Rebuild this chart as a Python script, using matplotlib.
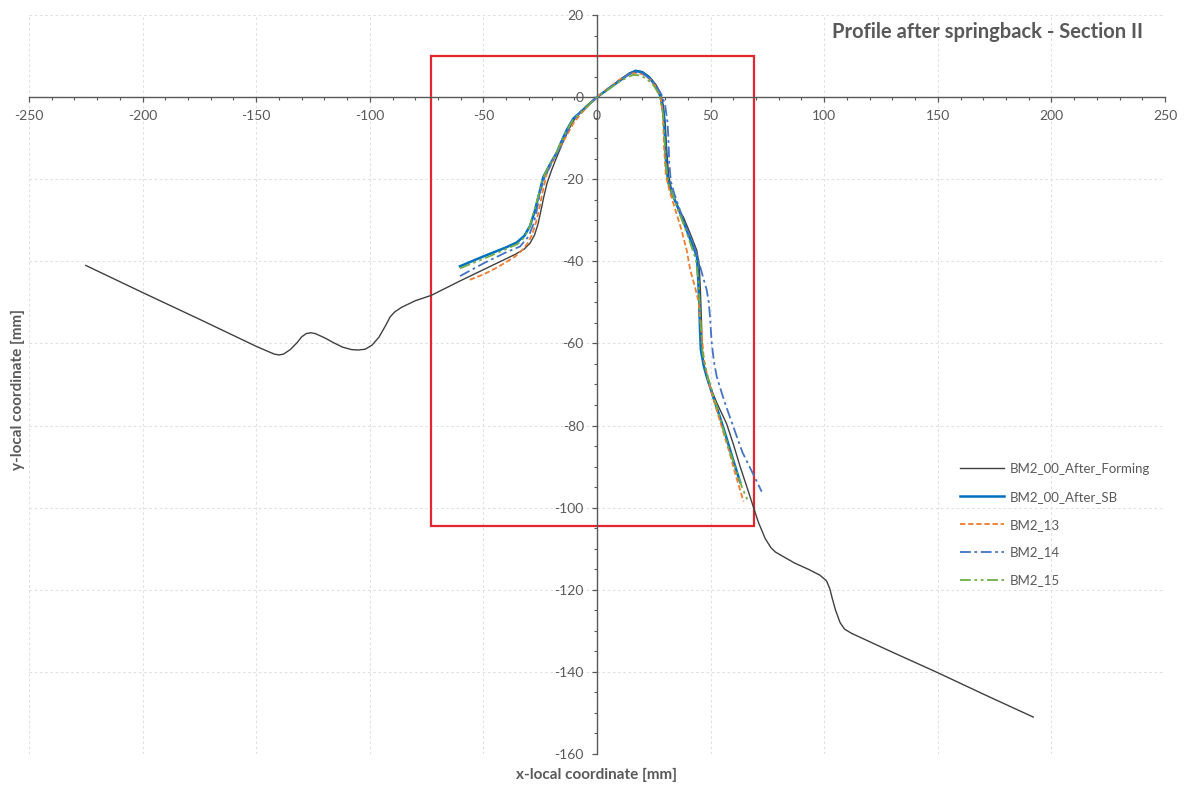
import matplotlib
matplotlib.use('Agg')
import matplotlib.pyplot as plt
from matplotlib.patches import Rectangle
from matplotlib.ticker import MultipleLocator

plt.rcParams['font.family'] = ['Lato', 'DejaVu Sans']
plt.rcParams['axes.unicode_minus'] = False

# BM2_00_After_Forming (full profile)
form_x = [-225, -200, -175, -150, -145, -142, -140, -138, -135, -132, -130, -128, -126, -124,
          -120, -116, -112, -108, -105, -102, -99, -96, -93, -91, -89, -86, -80, -73, -60, -45,
          -36, -32, -29.5, -27.5, -26, -24.8, -23.5, -22, -20, -18, -15, -12, -9, -5, 0, 5, 10,
          14, 17, 20, 23, 26, 28, 29.2, 30, 30.7, 31.5, 33, 35.5, 38, 41, 43.9, 45, 45.5, 46,
          46.3, 47.5, 50, 53, 57, 60, 63, 66, 68.8, 71, 74, 76.5, 78.5, 81, 87, 93, 98, 101,
          102.5, 103.5, 105, 107, 109, 112, 130, 150, 170, 192]
form_y = [-41, -47.6, -54.1, -60.7, -61.9, -62.6, -62.8, -62.6, -61.5, -59.8, -58.4, -57.6, -57.4,
          -57.6, -58.6, -59.8, -60.9, -61.5, -61.6, -61.4, -60.4, -58.5, -55.6, -53.5, -52.3,
          -51.2, -49.6, -48.3, -44.7, -40.7, -38.3, -37, -35.6, -33.6, -31, -28, -24.5, -21,
          -17.8, -15, -11, -7.4, -4.6, -2.3, 0, 2, 4.2, 5.8, 6.5, 6.2, 5, 3, 0.8, -2, -6, -12.9,
          -19, -23, -27, -29.2, -33.2, -37.3, -41, -47, -55, -62, -66.5, -70.8, -74.8, -79.5,
          -84.5, -90, -95, -99.8, -103.5, -107.5, -109.7, -110.8, -111.6, -113.5, -115, -116.4,
          -117.8, -119.8, -122, -125, -128, -129.6, -130.6, -135.2, -140.2, -145.4, -151]

# BM2_00_After_SB
sb_x = [-60.3, -50, -40, -35.3, -32, -29.5, -27.5, -25.8, -23.6, -20.5, -17.7, -15, -13.3, -10.4,
        -6, -3, 0, 5, 10, 14, 17, 20, 23, 25, 27, 28, 29.3, 29.9, 30.5, 31.5, 33, 35, 37.5, 40,
        42.5, 44, 44.5, 45, 45.3, 45.7, 47, 48.3, 51, 54.1, 57, 60, 63]
sb_y = [-41.2, -38.8, -36.6, -35.4, -33.8, -31.4, -28, -24.3, -19.4, -16.2, -13.5, -10, -8, -5.2,
        -3.1, -1.5, 0, 2, 4, 5.6, 6.4, 6, 4.8, 3.3, 1.4, 0, -4, -9.7, -17, -21, -23.5, -26, -29.5,
        -33.2, -36.6, -39, -44, -50, -56, -61.5, -65.5, -68.1, -72.8, -77.9, -83, -88.5, -93.8]

# BM2_13
b13_x = [-56, -50, -45, -40, -36, -33, -30.5, -28.5, -27, -25.5, -24.3, -22.1, -19, -16.3, -13,
         -10.4, -7, -3, 0, 5, 10, 14, 17, 20, 23, 26, 28, 29, 29.5, 30.3, 32, 34.5, 37, 39.5, 41,
         43, 44.6, 46, 47, 49, 52, 55, 58, 61, 64.5]
b13_y = [-44.5, -43.2, -41.8, -40.2, -38.8, -37.3, -35.6, -33.4, -30.8, -27.5, -24, -18.6, -15,
         -12.1, -9, -6.4, -4, -1.6, 0, 2.2, 4.3, 5.6, 5.9, 5.6, 4.5, 2.5, 0, -4, -12, -19, -23,
         -27.5, -32, -37.3, -42, -46, -49.5, -57, -63.8, -69, -75, -80.5, -86, -92, -98.5]

# BM2_14
b14_x = [-60.3, -50, -40, -33.9, -30.2, -28, -26.5, -25, -23, -20, -17, -14, -11, -7, -3, 0, 5,
         10, 14, 17, 20, 23, 26, 28.5, 30, 31, 31.4, 31.8, 32.5, 34, 36.5, 39, 42, 44, 45.5, 47,
         48.3, 49.2, 49.8, 50.5, 51.5, 52.7, 56, 60, 64, 68, 72.5]
b14_y = [-43.6, -40.5, -37.8, -36.4, -34, -31, -27.5, -23, -19.5, -16, -13, -9.5, -6, -3.4, -1.5,
         0, 2.1, 4.2, 5.6, 6.1, 5.8, 4.6, 2.8, 0.5, -2, -6, -9.7, -16, -20.5, -23.5, -27.5, -31.5,
         -35, -38.5, -41.5, -44.5, -47, -50, -54, -60, -64.5, -68.1, -74, -80.3, -86.5, -91, -96.1]

# BM2_15
b15_x = [-60.3, -50, -40, -35, -32, -29.8, -27.8, -26, -24, -21, -18, -15.3, -13.5, -10.5, -6, -3,
         0, 5, 10, 14, 16, 19, 22, 25, 27.5, 29, 29.7, 30.4, 31.5, 33.5, 36, 38.5, 41, 43.5, 44.5,
         45, 45.6, 46.2, 47.5, 49, 52, 55, 58, 61.5, 64, 66.6]
b15_y = [-41.7, -39.4, -37, -35.8, -34.2, -31.8, -28, -24.5, -20, -16.5, -13.7, -10.3, -8.3, -5.5,
         -3.2, -1.5, 0, 1.9, 3.8, 5, 5.4, 5.3, 4.4, 2.8, 0.5, -4, -10, -17, -21, -24, -28, -31.5,
         -35.5, -39.5, -44, -48.5, -55, -61, -65.5, -68.5, -74, -79.8, -85.5, -91.3, -95.3, -98.5]

# highlighted region
box_x0, box_x1 = -73, 69
box_y0, box_y1 = -104.5, 10

gray = '#595959'

fig = plt.figure(figsize=(11.85, 7.87), dpi=100)
ax = fig.add_axes([29/1185, 33/787, 1136/1185, 739/787])

ax.plot(form_x, form_y, color='#404040', lw=1.0, label='BM2_00_After_Forming', zorder=3)
ax.plot(sb_x, sb_y, color='#0070C0', lw=1.8, label='BM2_00_After_SB', zorder=4)
ax.plot(b13_x, b13_y, color='#ED7D31', lw=1.3, dashes=(3, 1.5), label='BM2_13', zorder=4)
ax.plot(b14_x, b14_y, color='#4472C4', lw=1.3, dashes=(6, 2, 1.5, 2), label='BM2_14', zorder=4)
ax.plot(b15_x, b15_y, color='#70AD47', lw=1.3, dashes=(6, 2, 1.5, 2, 1.5, 2), label='BM2_15', zorder=4)

ax.add_patch(Rectangle((box_x0, box_y0), box_x1 - box_x0, box_y1 - box_y0,
                       fill=False, edgecolor='#E3262D', lw=1.6, zorder=2))

ax.set_xlim(-250, 250)
ax.set_ylim(-160, 20)
ax.xaxis.set_major_locator(MultipleLocator(50))
ax.xaxis.set_minor_locator(MultipleLocator(10))
ax.yaxis.set_major_locator(MultipleLocator(20))
ax.yaxis.set_minor_locator(MultipleLocator(5))

ax.grid(which='major', color='#e0e0e0', linestyle=(0, (2.5, 2.5)), linewidth=0.75, zorder=0)
ax.set_axisbelow(True)

for s in ['top', 'right']:
    ax.spines[s].set_visible(False)
ax.spines['left'].set_position(('data', 0))
ax.spines['bottom'].set_position(('data', 0))
for s in ['left', 'bottom']:
    ax.spines[s].set_color('#595959')
    ax.spines[s].set_linewidth(1.0)

ax.tick_params(which='major', direction='out', length=3.5, width=0.9, color=gray,
               labelcolor=gray, labelsize=10, pad=6)
ax.tick_params(which='minor', direction='out', length=2.5, width=0.8, color=gray)

fig.text(1143/1185, 1 - 32/787, 'Profile after springback - Section II', ha='right', va='center',
         fontsize=14.5, fontweight='bold', color=gray)
fig.text(597/1185, 1 - 775/787, 'x-local coordinate [mm]', ha='center', va='center',
         fontsize=11, fontweight='bold', color=gray)
fig.text(18/1185, 1 - 390/787, 'y-local coordinate [mm]', ha='center', va='center', rotation=90,
         fontsize=11, fontweight='bold', color=gray)

leg = ax.legend(loc='upper left', bbox_to_anchor=(960/1185, 1 - 463/787),
                bbox_transform=fig.transFigure, frameon=False, fontsize=9.5,
                handlelength=3.3, handletextpad=0.5, labelspacing=1.2,
                borderpad=0, borderaxespad=0)
for t in leg.get_texts():
    t.set_color(gray)

fig.savefig('out.png', dpi=100)
